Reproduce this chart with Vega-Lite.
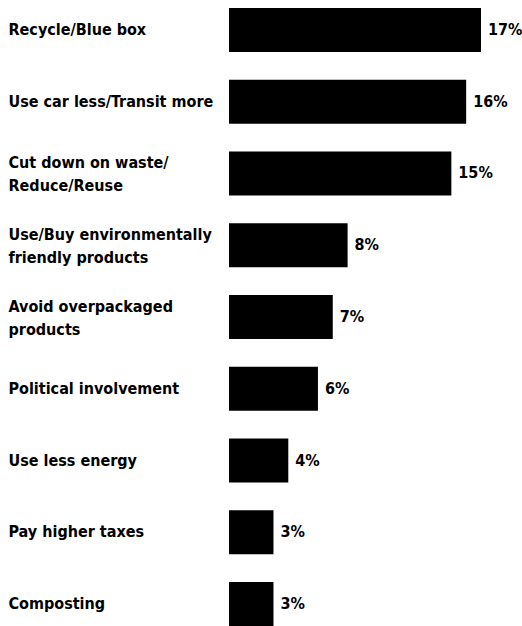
{
  "$schema": "https://vega.github.io/schema/vega-lite/v6.json",
  "autosize": "none",
  "padding": {"left": 229, "top": 0, "right": 41, "bottom": 0},
  "width": 252,
  "height": 626,
  "background": "white",
  "config": {"view": {"stroke": null}},
  "data": {
    "values": [
      {"action": "Recycle/Blue box", "share": 0.17},
      {"action": "Use car less/Transit more", "share": 0.16},
      {"action": "Cut down on waste/|Reduce/Reuse", "share": 0.15},
      {"action": "Use/Buy environmentally|friendly products", "share": 0.08},
      {"action": "Avoid overpackaged|products", "share": 0.07},
      {"action": "Political involvement", "share": 0.06},
      {"action": "Use less energy", "share": 0.04},
      {"action": "Pay higher taxes", "share": 0.03},
      {"action": "Composting", "share": 0.03}
    ]
  },
  "encoding": {
    "y": {
      "field": "action",
      "type": "nominal",
      "sort": null,
      "scale": {"paddingInner": 0.387, "paddingOuter": 0.0557, "align": 1},
      "axis": {
        "title": null,
        "domain": false,
        "ticks": false,
        "labelAlign": "left",
        "labelBaseline": "middle",
        "labelPadding": 221,
        "labelLimit": 0,
        "labelFont": "DejaVu Sans Condensed",
        "labelFontWeight": "bold",
        "labelFontSize": 16,
        "labelLineHeight": 23,
        "labelColor": "black",
        "labelOffset": {"condition": {"test": "indexof(datum.value, '|') >= 0", "value": -10}, "value": 0},
        "labelExpr": "split(datum.label, '|')"
      }
    },
    "x": {
      "field": "share",
      "type": "quantitative",
      "scale": {"domain": [0, 0.17], "nice": false, "zero": true},
      "axis": null
    }
  },
  "layer": [
    {"mark": {"type": "bar", "color": "black", "cornerRadius": 0}},
    {
      "mark": {
        "type": "text",
        "align": "left",
        "baseline": "middle",
        "dx": 7,
        "font": "DejaVu Sans Condensed",
        "fontWeight": "bold",
        "fontSize": 16,
        "color": "black"
      },
      "encoding": {"text": {"field": "share", "type": "quantitative", "format": ".0%"}}
    }
  ]
}
